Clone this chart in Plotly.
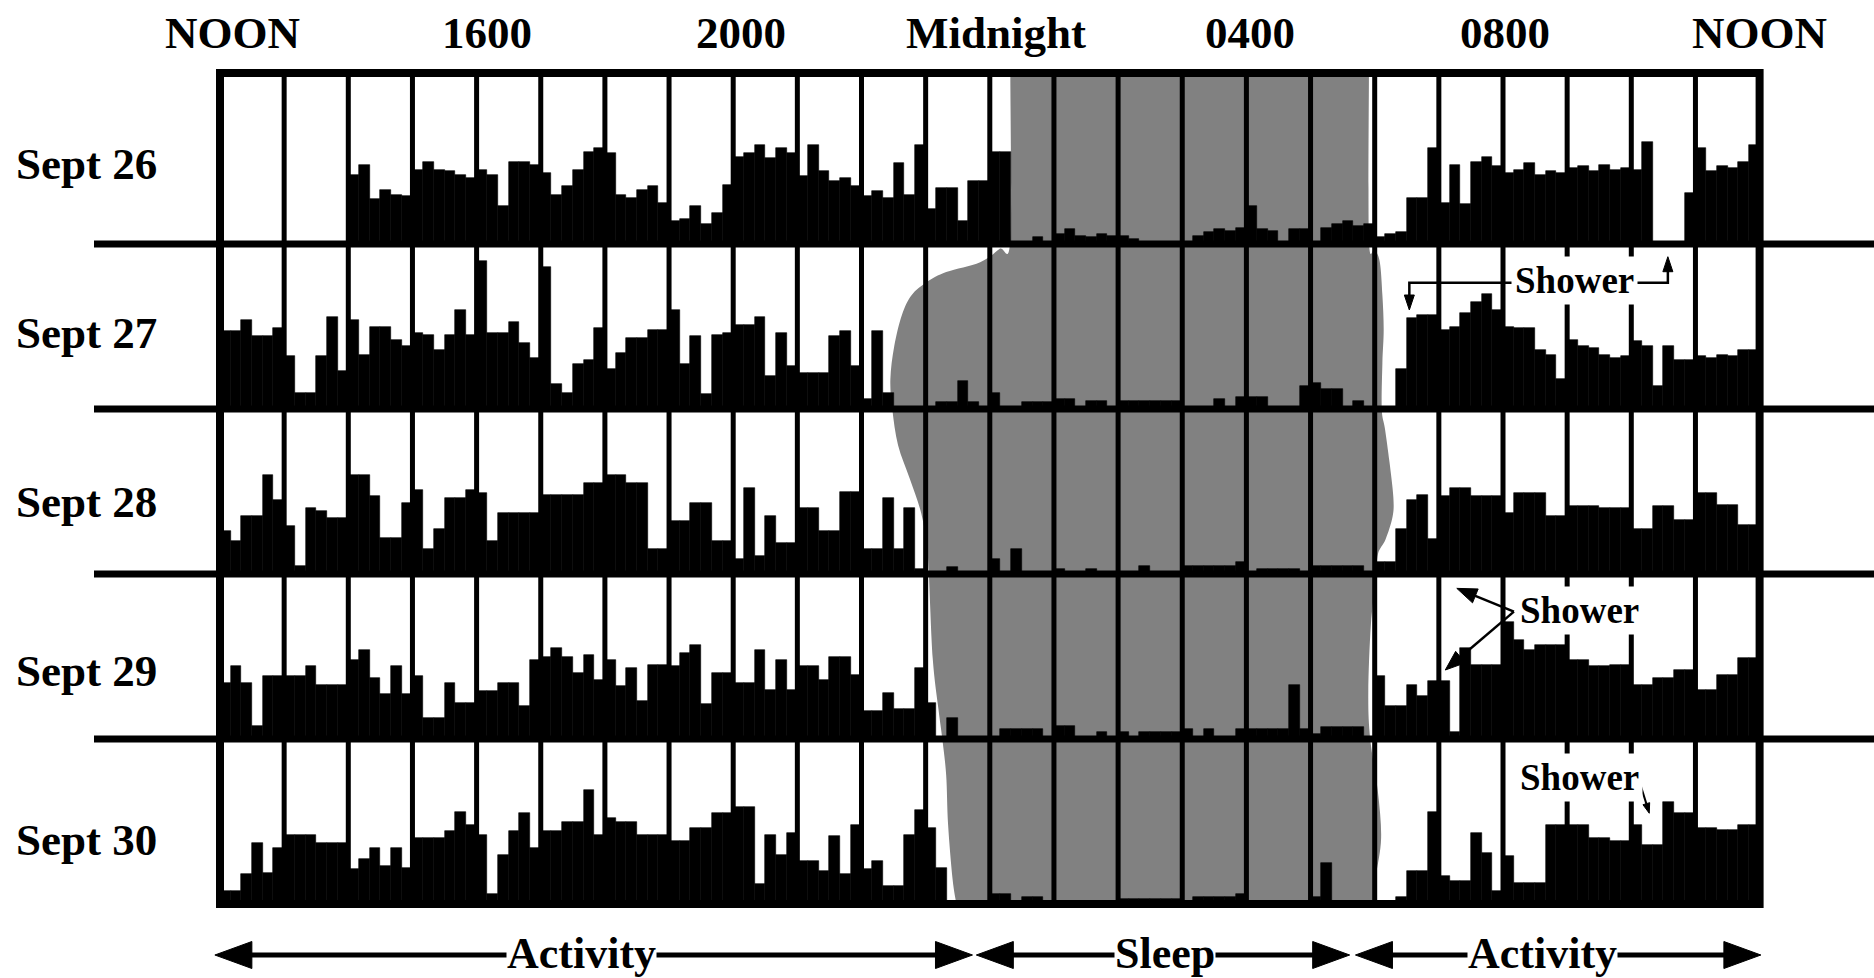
import numpy as np
import plotly.graph_objects as go

# ---------------------------------------------------------------------------
# Wrist actigraphy, five consecutive days, each row running noon -> noon.
# Values are activity per 10-minute epoch, as percent of the row height.
# ---------------------------------------------------------------------------
DAYS = ["Sept 26", "Sept 27", "Sept 28", "Sept 29", "Sept 30"]
CLOCK_LABELS = ["NOON", "1600", "2000", "Midnight", "0400", "0800", "NOON"]
CLOCK_HOURS = [0, 4, 8, 12, 16, 20, 24]      # hours after noon
BINS_PER_HOUR = 6

sept26 = [
    0, 0, 0, 0, 0, 0,   0, 0, 0, 0, 0, 0,
    42, 48, 27, 33, 30, 29,   45, 50, 45, 44, 42, 40,
    45, 42, 23, 50, 50, 48,   43, 30, 35, 45, 56, 58,
    55, 30, 28, 33, 35, 25,   14, 15, 23, 12, 19, 36,
    53, 55, 60, 52, 58, 55,   41, 60, 44, 38, 40, 35,
    29, 32, 28, 49, 30, 60,   21, 34, 34, 14, 38, 38,
    56, 56, 0, 0, 4, 0,       6, 9, 5, 4, 6, 5,
    5, 3, 0, 0, 0, 0,         0, 5, 7, 9, 8, 10,
    23, 9, 8, 0, 9, 9,        0, 10, 12, 14, 11, 12,
    4, 6, 7, 28, 28, 58,      25, 48, 24, 50, 53, 47,
    43, 45, 49, 42, 44, 43,   46, 47, 44, 48, 45, 46,
    45, 62, 0, 0, 0, 31,      58, 44, 47, 46, 50, 60,
]
sept27 = [
    47, 47, 54, 44, 44, 49,   32, 10, 10, 32, 56, 23,
    54, 33, 50, 50, 42, 38,   46, 45, 36, 45, 60, 45,
    90, 46, 46, 53, 40, 31,   86, 15, 10, 27, 30, 49,
    24, 34, 43, 43, 48, 48,   60, 27, 44, 9, 45, 46,
    51, 51, 56, 20, 46, 26,   22, 22, 22, 44, 47, 26,
    6, 47, 10, 0, 0, 0,       0, 4, 4, 17, 4, 0,
    10, 0, 0, 4, 4, 4,        6, 6, 0, 5, 5, 0,
    5, 5, 5, 5, 5, 5,         0, 0, 0, 6, 0, 7,
    7, 7, 0, 0, 0, 14,        16, 12, 12, 0, 5, 0,
    0, 0, 24, 55, 57, 57,     48, 50, 58, 65, 70, 60,
    50, 49, 49, 36, 33, 18,   42, 38, 37, 33, 31, 32,
    41, 38, 14, 38, 30, 30,   32, 31, 33, 32, 36, 36,
]
sept28 = [
    26, 20, 35, 35, 60, 45,   29, 5, 40, 38, 34, 34,
    60, 60, 47, 22, 22, 43,   51, 15, 27, 46, 46, 51,
    49, 20, 37, 37, 37, 37,   48, 48, 48, 48, 55, 55,
    60, 60, 55, 55, 15, 15,   32, 32, 43, 43, 20, 20,
    9, 52, 11, 35, 19, 19,    40, 40, 26, 26, 50, 50,
    15, 15, 46, 15, 40, 3,    0, 0, 4, 0, 0, 0,
    9, 0, 15, 0, 0, 0,        3, 0, 0, 3, 0, 0,
    0, 0, 5, 0, 0, 0,         5, 5, 5, 5, 5, 7,
    0, 3, 3, 3, 3, 0,         5, 5, 5, 5, 5, 0,
    7, 7, 27, 45, 48, 21,     47, 52, 52, 47, 47, 47,
    37, 49, 49, 49, 35, 35,   41, 41, 41, 40, 40, 40,
    27, 27, 41, 41, 33, 33,   49, 49, 42, 42, 30, 30,
]
sept29 = [
    34, 44, 34, 8, 38, 38,    38, 38, 44, 33, 33, 33,
    48, 54, 37, 27, 44, 27,   38, 13, 13, 34, 22, 22,
    29, 29, 34, 34, 20, 48,   50, 55, 50, 40, 51, 36,
    48, 32, 43, 23, 45, 45,   44, 52, 57, 21, 40, 40,
    34, 34, 54, 30, 48, 30,   44, 44, 36, 50, 50, 39,
    17, 17, 28, 18, 18, 43,   22, 0, 13, 0, 0, 0,
    0, 6, 6, 6, 6, 0,         8, 8, 0, 0, 4, 0,
    4, 0, 4, 4, 4, 4,         6, 0, 6, 0, 0, 6,
    6, 6, 6, 6, 33, 6,        3, 7, 7, 7, 7, 0,
    38, 20, 20, 33, 26, 35,   35, 4, 55, 45, 45, 45,
    71, 60, 54, 57, 57, 57,   48, 48, 44, 44, 45, 45,
    33, 33, 37, 37, 42, 42,   30, 30, 39, 39, 49, 49,
]
sept30 = [
    8, 8, 18, 37, 19, 34,     42, 42, 42, 37, 37, 37,
    21, 27, 34, 23, 34, 22,   40, 40, 40, 44, 56, 48,
    42, 6, 30, 44, 55, 34,    44, 44, 50, 50, 69, 42,
    52, 50, 50, 42, 42, 42,   38, 38, 46, 46, 55, 55,
    59, 59, 12, 42, 30, 43,   26, 26, 20, 41, 18, 48,
    21, 26, 11, 11, 42, 57,   46, 22, 0, 0, 0, 0,
    6, 6, 0, 4, 4, 0,         0, 0, 0, 0, 0, 0,
    3, 3, 3, 3, 3, 3,         0, 4, 4, 4, 4, 6,
    0, 0, 0, 0, 0, 0,         4, 25, 0, 0, 0, 0,
    0, 0, 4, 20, 20, 56,      17, 14, 14, 43, 31, 8,
    29, 13, 13, 13, 48, 48,   48, 48, 40, 40, 38, 38,
    48, 36, 36, 62, 55, 55,   46, 46, 45, 45, 48, 48,
]
ACTIVITY = [sept26, sept27, sept28, sept29, sept30]

# ---------------------------------------------------------------------------
# Page geometry: x in hours after noon, y in day-rows (Sept 30 baseline = 0)
# ---------------------------------------------------------------------------
W, H = 1874, 978
X0_PX, PX_PER_HOUR = 220.0, 64.15
Y0_PX, PX_PER_ROW = 904.0, 165.0
TOP = 5.036
XR = [-X0_PX / PX_PER_HOUR, (W - X0_PX) / PX_PER_HOUR]
YR = [(Y0_PX - H) / PX_PER_ROW, Y0_PX / PX_PER_ROW]
SERIF = "Liberation Serif, Times New Roman, serif"

fig = go.Figure()

# activity bars, one trace per day sitting on its own baseline
n_bins = 24 * BINS_PER_HOUR
centers = (np.arange(n_bins) + 0.5) / BINS_PER_HOUR
for k, vals in enumerate(ACTIVITY):
    fig.add_trace(go.Bar(
        x=centers, y=np.asarray(vals, float) / 100.0, base=4 - k,
        width=1.0 / BINS_PER_HOUR,
        marker=dict(color="black", line=dict(color="black", width=0.6)),
        hoverinfo="skip", showlegend=False, name=DAYS[k],
    ))

shapes = []

# shaded sleep band (hand-traced outline, smoothed with Catmull-Rom)
sleep_left = [(12.32, TOP), (12.32, 4.03), (12.15, 3.97), (11.85, 3.89), (11.32, 3.83),
              (11.02, 3.77), (10.78, 3.69), (10.63, 3.57), (10.51, 3.38), (10.45, 3.18),
              (10.48, 3.0), (10.57, 2.78), (10.75, 2.58), (10.93, 2.37), (11.02, 2.17),
              (11.05, 2.0), (11.11, 1.49), (11.2, 1.18), (11.26, 1.0), (11.32, 0.78),
              (11.35, 0.48), (11.42, 0.15), (11.48, 0.0)]
sleep_right = [(17.97, 0.0), (18.02, 0.17), (18.1, 0.4), (18.05, 0.68), (17.93, 1.0),
               (17.9, 1.28), (17.94, 1.69), (18.02, 1.97), (18.05, 2.12), (18.17, 2.21),
               (18.28, 2.35), (18.29, 2.47), (18.23, 2.68), (18.16, 2.88), (18.11, 3.0),
               (18.12, 3.28), (18.14, 3.48), (18.12, 3.69), (18.08, 3.89), (18.0, 3.97),
               (17.91, 4.03), (17.91, TOP)]


def catmull(pts):
    p = [pts[0]] + list(pts) + [pts[-1]]
    out = ""
    for i in range(1, len(p) - 2):
        p0, p1, p2, p3 = p[i - 1], p[i], p[i + 1], p[i + 2]
        c1 = (p1[0] + (p2[0] - p0[0]) / 6, p1[1] + (p2[1] - p0[1]) / 6)
        c2 = (p2[0] - (p3[0] - p1[0]) / 6, p2[1] - (p3[1] - p1[1]) / 6)
        out += f" C {c1[0]:.4f},{c1[1]:.4f} {c2[0]:.4f},{c2[1]:.4f} {p2[0]:.4f},{p2[1]:.4f}"
    return out


band = (f"M {sleep_left[0][0]},{sleep_left[0][1]}" + catmull(sleep_left)
        + f" L {sleep_right[0][0]},{sleep_right[0][1]}" + catmull(sleep_right) + " Z")
shapes.append(dict(type="path", path=band, xref="x", yref="y", layer="below",
                   fillcolor="#818181", line=dict(width=0)))

# hour grid, day separators and frame
for hr in range(1, 24):
    shapes.append(dict(type="line", xref="x", yref="y", x0=hr, x1=hr, y0=0, y1=TOP,
                       line=dict(color="black", width=5), layer="above"))
sep_start = (94 - X0_PX) / PX_PER_HOUR
for r in range(1, 5):
    shapes.append(dict(type="line", xref="x", yref="y", x0=sep_start, x1=XR[1], y0=r, y1=r,
                       line=dict(color="black", width=7), layer="above"))
shapes.append(dict(type="rect", xref="x", yref="y", x0=0, x1=24, y0=0, y1=TOP,
                   line=dict(color="black", width=8), layer="above"))


def head(tip, tail, length, width):
    """Filled triangular arrowhead (sizes in pixels) as a data-space path."""
    dx = (tip[0] - tail[0]) * PX_PER_HOUR
    dy = (tip[1] - tail[1]) * PX_PER_ROW
    n = np.hypot(dx, dy)
    ux, uy = dx / n, dy / n
    bx, by = tip[0] * PX_PER_HOUR - ux * length, tip[1] * PX_PER_ROW - uy * length
    px, py = -uy * width / 2, ux * width / 2
    a = ((bx + px) / PX_PER_HOUR, (by + py) / PX_PER_ROW)
    b = ((bx - px) / PX_PER_HOUR, (by - py) / PX_PER_ROW)
    return dict(type="path", xref="x", yref="y", layer="above",
                path=f"M {tip[0]},{tip[1]} L {a[0]},{a[1]} L {b[0]},{b[1]} Z",
                fillcolor="black", line=dict(color="black", width=1))


def shorten(p, q, px):
    """Point on segment p->q, px pixels back from q."""
    dx = (q[0] - p[0]) * PX_PER_HOUR
    dy = (q[1] - p[1]) * PX_PER_ROW
    n = np.hypot(dx, dy)
    return (q[0] - dx / n * px / PX_PER_HOUR, q[1] - dy / n * px / PX_PER_ROW)


annotations = []

# clock labels across the top
for lab, hr in zip(CLOCK_LABELS, CLOCK_HOURS):
    annotations.append(dict(x=hr, y=5.279, xref="x", yref="y", text=f"<b>{lab}</b>",
                            showarrow=False, xanchor="center", yanchor="middle",
                            xshift=12 * (1 - hr / 24),
                            font=dict(family=SERIF, size=45, color="black")))

# day labels
for k, day in enumerate(DAYS):
    annotations.append(dict(x=(14 - X0_PX) / PX_PER_HOUR, y=4.5 - k, xref="x", yref="y",
                            text=f"<b>{day}</b>", showarrow=False, xanchor="left",
                            yanchor="middle", yshift=-(2 + 4 * k),
                            font=dict(family=SERIF, size=45, color="black")))

# double-headed arrows under the chart
ARROW_Y = (Y0_PX - 955) / PX_PER_ROW
phases = [(-0.08, 11.73, "Activity", 5.64), (11.79, 17.61, "Sleep", 14.73),
          (17.70, 24.02, "Activity", 20.61)]
for a0, a1, lab, mid in phases:
    p0, p1 = (a0, ARROW_Y), (a1, ARROW_Y)
    s0 = shorten(p1, p0, 30)
    s1 = shorten(p0, p1, 30)
    shapes.append(dict(type="line", xref="x", yref="y", x0=s0[0], x1=s1[0], y0=ARROW_Y,
                       y1=ARROW_Y, line=dict(color="black", width=5), layer="above"))
    shapes.append(head(p0, p1, 37, 27))
    shapes.append(head(p1, p0, 37, 27))
    annotations.append(dict(x=mid, y=ARROW_Y, xref="x", yref="y", text=f"<b>{lab}</b>",
                            showarrow=False, xanchor="center", yanchor="middle",
                            bgcolor="white", borderpad=0, yshift=2,
                            font=dict(family=SERIF, size=44, color="black")))

# "Shower" call-outs
LEAD = dict(color="black", width=2.5)
showers = [(21.12, 3.778), (21.20, 1.778), (21.19, 0.768)]
for sx, sy in showers:
    annotations.append(dict(x=sx, y=sy, xref="x", yref="y", text="<b>Shower</b>",
                            showarrow=False, xanchor="center", yanchor="middle",
                            bgcolor="white", borderpad=3,
                            font=dict(family=SERIF, size=37, color="black")))

# Sept 27 bracket: left drop to the morning trace, right rise to the Sept 26 gap
y_lead = 3.765
tipL, tipR = (18.54, 3.60), (22.57, 3.923)
shapes.append(dict(type="path", xref="x", yref="y", layer="above", line=LEAD,
                   path=f"M 21.12,{y_lead} H {tipL[0]} V {tipL[1] + 12 / PX_PER_ROW}"))
shapes.append(head(tipL, (tipL[0], y_lead), 15, 10))
shapes.append(dict(type="path", xref="x", yref="y", layer="above", line=LEAD,
                   path=f"M 21.12,{y_lead} H {tipR[0]} V {tipR[1] - 12 / PX_PER_ROW}"))
shapes.append(head(tipR, (tipR[0], y_lead), 15, 10))

# Sept 29 pair of arrows from a common origin
origin = (20.17, 1.772)
for tip in [(19.28, 1.913), (19.10, 1.418)]:
    end = shorten(origin, tip, 14)
    shapes.append(dict(type="line", xref="x", yref="y", x0=origin[0], y0=origin[1],
                       x1=end[0], y1=end[1], line=LEAD, layer="above"))
    shapes.append(head(tip, origin, 20, 15))

# Sept 30 short pointer
o3, t3 = (22.12, 0.752), (22.28, 0.55)
e3 = shorten(o3, t3, 8)
shapes.append(dict(type="line", xref="x", yref="y", x0=o3[0], y0=o3[1], x1=e3[0], y1=e3[1],
                   line=dict(color="black", width=2), layer="above"))
shapes.append(head(t3, o3, 10, 7))

fig.update_layout(
    width=W, height=H, margin=dict(l=0, r=0, t=0, b=0),
    paper_bgcolor="white", plot_bgcolor="white",
    barmode="overlay", bargap=0,
    xaxis=dict(range=XR, visible=False, fixedrange=True),
    yaxis=dict(range=YR, visible=False, fixedrange=True),
    shapes=shapes, annotations=annotations, showlegend=False,
)

fig.write_html("out.html", config={"displayModeBar": False})
